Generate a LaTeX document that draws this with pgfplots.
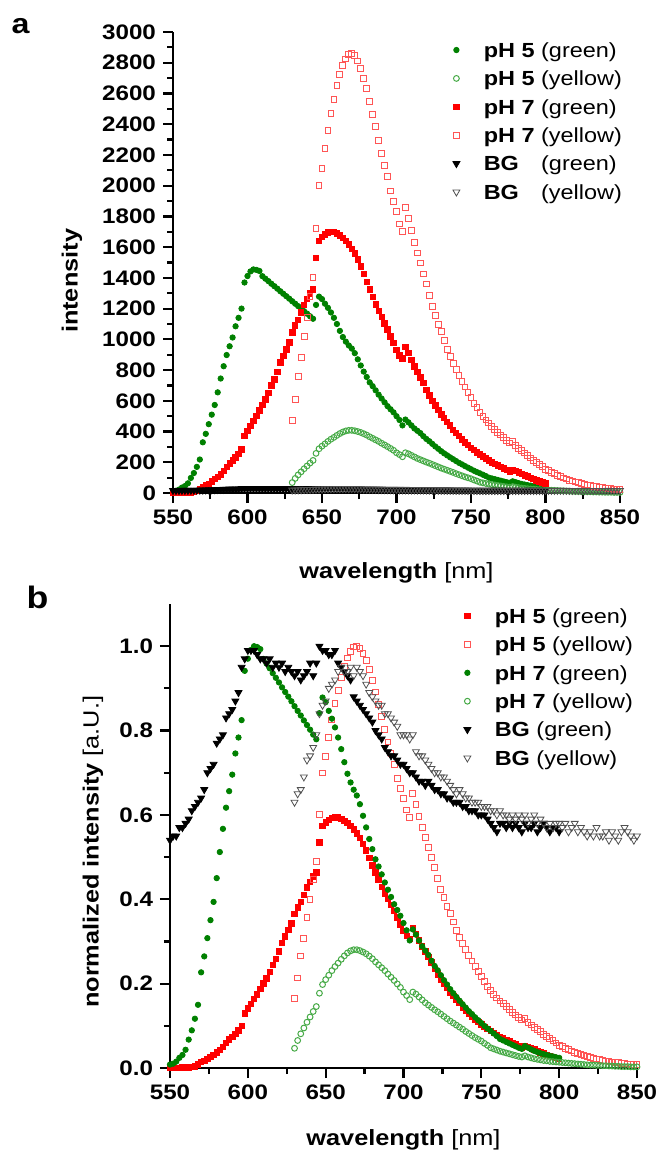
\documentclass[border=0pt]{standalone}
\usepackage{fontspec}
\setmainfont{Liberation Sans}[FakeStretch=1.15]
\usepackage{pgfplots}
\pgfplotsset{compat=1.18}
\usepackage{pgfplotstable}
\definecolor{cG}{RGB}{0,128,0}
\definecolor{cGo}{RGB}{70,170,70}
\definecolor{cR}{RGB}{255,0,0}
\definecolor{cRo}{RGB}{255,85,85}
\definecolor{cBo}{RGB}{80,80,80}

\pgfplotstableread[row sep=\\]{x y\\550 12\\552 15\\554 22\\556 35\\558 45\\560 63\\562 98\\564 130\\566 170\\568 218\\570 330\\572 385\\574 448\\576 510\\578 573\\580 655\\582 745\\584 825\\586 898\\588 955\\590 1012\\592 1085\\594 1140\\596 1200\\598 1370\\600 1412\\602 1442\\604 1455\\606 1452\\608 1445\\610 1411\\612 1395\\614 1379\\616 1362\\618 1346\\620 1330\\622 1313\\624 1297\\626 1281\\628 1265\\630 1248\\632 1232\\634 1216\\636 1199\\638 1183\\640 1167\\642 1150\\644 1134\\646 1224\\648 1278\\650 1262\\652 1232\\654 1205\\656 1175\\658 1140\\660 1100\\662 1055\\664 1015\\666 985\\668 960\\670 940\\672 910\\674 870\\676 830\\678 790\\680 755\\682 720\\684 695\\686 668\\688 640\\690 615\\692 590\\694 565\\696 545\\698 525\\700 500\\702 475\\704 440\\706 478\\708 460\\710 440\\712 420\\714 405\\716 390\\718 370\\720 352\\722 337\\724 320\\726 303\\728 288\\730 272\\732 258\\734 245\\736 232\\738 220\\740 208\\742 196\\744 186\\746 175\\748 165\\750 155\\752 145\\754 136\\756 128\\758 119\\760 110\\762 100\\764 95\\766 90\\768 85\\770 80\\772 75\\774 70\\776 66\\778 76\\780 70\\782 64\\784 59\\786 55\\788 51\\790 48\\792 45\\794 42\\796 40\\798 37\\800 35\\}\Gfive

\pgfplotstableread[row sep=\\]{x y\\630 68\\632 95\\634 118\\636 138\\638 158\\640 176\\642 195\\644 212\\646 258\\648 288\\650 305\\652 320\\654 336\\656 350\\658 362\\660 375\\662 387\\664 397\\666 404\\668 408\\670 408\\672 405\\674 400\\676 394\\678 386\\680 377\\682 366\\684 356\\686 346\\688 336\\690 324\\692 313\\694 302\\696 290\\698 278\\700 262\\702 250\\704 236\\706 262\\708 255\\710 245\\712 235\\714 225\\716 217\\718 209\\720 201\\722 194\\724 186\\726 178\\728 170\\730 162\\732 155\\734 148\\736 141\\738 134\\740 126\\742 119\\744 112\\746 105\\748 99\\750 93\\752 85\\754 78\\756 70\\758 66\\760 62\\762 58\\764 55\\766 52\\768 49\\770 46\\772 43\\774 40\\776 38\\778 42\\780 38\\782 35\\784 32\\786 30\\788 28\\790 26\\792 25\\794 23\\796 22\\798 21\\800 20\\802 19\\804 18\\806 17\\808 16\\810 15\\812 14\\814 13\\816 12\\818 11\\820 10\\822 10\\824 9\\826 9\\828 8\\830 8\\832 7\\834 7\\836 6\\838 6\\840 5\\842 5\\844 5\\846 4\\848 4\\850 4\\}\Yfive

\pgfplotstableread[row sep=\\]{x y\\550 2\\552 2\\554 2\\556 2\\558 3\\560 3\\562 4\\564 6\\566 12\\568 25\\570 40\\572 50\\574 60\\576 75\\578 90\\580 105\\582 122\\584 145\\586 170\\588 193\\590 212\\592 232\\594 255\\596 285\\598 370\\600 405\\602 435\\604 468\\606 500\\608 538\\610 575\\612 608\\614 650\\616 700\\618 740\\620 790\\622 850\\624 892\\626 935\\628 980\\630 1045\\632 1090\\634 1125\\636 1175\\638 1225\\640 1262\\642 1300\\644 1325\\646 1530\\648 1640\\650 1665\\652 1682\\654 1695\\656 1700\\658 1698\\660 1690\\662 1677\\664 1660\\666 1640\\668 1618\\670 1590\\672 1560\\674 1520\\676 1475\\678 1425\\680 1375\\682 1325\\684 1278\\686 1228\\688 1185\\690 1145\\692 1105\\694 1065\\696 1020\\698 975\\700 930\\702 895\\704 875\\706 950\\708 910\\710 866\\712 825\\714 790\\716 752\\718 715\\720 670\\722 635\\724 600\\726 570\\728 542\\730 512\\732 488\\734 462\\736 440\\738 412\\740 390\\742 370\\744 350\\746 330\\748 312\\750 295\\752 280\\754 265\\756 250\\758 238\\760 225\\762 212\\764 200\\766 190\\768 180\\770 170\\772 160\\774 150\\776 140\\778 150\\780 145\\782 135\\784 125\\786 115\\788 107\\790 98\\792 90\\794 83\\796 76\\798 70\\800 63\\}\Gseven

\pgfplotstableread[row sep=\\]{x y\\630 470\\632 610\\634 760\\636 880\\638 1020\\640 1140\\642 1280\\644 1400\\646 1720\\648 2000\\650 2110\\652 2240\\654 2360\\656 2470\\658 2560\\660 2650\\662 2725\\664 2780\\666 2825\\668 2855\\670 2860\\672 2845\\674 2812\\676 2765\\678 2700\\680 2630\\682 2550\\684 2465\\686 2385\\688 2295\\690 2210\\692 2130\\694 2060\\696 1965\\698 1895\\700 1830\\702 1750\\704 1700\\706 1860\\708 1785\\710 1707\\712 1630\\714 1562\\716 1497\\718 1425\\720 1360\\722 1285\\724 1213\\726 1155\\728 1095\\730 1050\\732 990\\734 935\\736 887\\738 843\\740 805\\742 765\\744 725\\746 690\\748 655\\750 620\\752 585\\754 555\\756 525\\758 497\\760 475\\762 455\\764 435\\766 415\\768 395\\770 378\\772 360\\774 340\\776 325\\778 335\\780 310\\782 292\\784 276\\786 260\\788 245\\790 228\\792 213\\794 200\\796 185\\798 170\\800 155\\802 145\\804 135\\806 125\\808 115\\810 106\\812 98\\814 91\\816 84\\818 78\\820 72\\822 66\\824 61\\826 56\\828 52\\830 48\\832 44\\834 41\\836 38\\838 35\\840 32\\842 30\\844 27\\846 25\\848 23\\850 22\\}\Yseven

\pgfplotstableread[row sep=\\]{x y\\550 0.54\\552 0.55\\554 0.55\\556 0.57\\558 0.57\\560 0.58\\562 0.59\\564 0.61\\566 0.62\\568 0.63\\570 0.64\\572 0.66\\574 0.70\\576 0.71\\578 0.72\\580 0.77\\582 0.78\\584 0.79\\586 0.83\\588 0.84\\590 0.85\\592 0.87\\594 0.89\\596 0.95\\598 0.97\\600 0.99\\602 0.99\\604 0.99\\606 0.98\\608 0.97\\610 0.97\\612 0.96\\614 0.97\\616 0.95\\618 0.96\\620 0.95\\622 0.96\\624 0.94\\626 0.95\\628 0.94\\630 0.93\\632 0.94\\634 0.92\\636 0.93\\638 0.94\\640 0.96\\642 0.93\\644 0.96\\646 1.00\\648 0.99\\650 0.99\\652 0.98\\654 0.98\\656 0.99\\658 0.96\\660 0.95\\662 0.94\\664 0.93\\666 0.92\\668 0.88\\670 0.87\\672 0.86\\674 0.85\\676 0.84\\678 0.83\\680 0.82\\682 0.80\\684 0.79\\686 0.78\\688 0.76\\690 0.75\\692 0.74\\694 0.74\\696 0.73\\698 0.72\\700 0.72\\702 0.71\\704 0.70\\706 0.70\\708 0.69\\710 0.68\\712 0.68\\714 0.67\\716 0.68\\718 0.67\\720 0.66\\722 0.66\\724 0.65\\726 0.65\\728 0.64\\730 0.64\\732 0.63\\734 0.63\\736 0.63\\738 0.62\\740 0.62\\742 0.61\\744 0.61\\746 0.61\\748 0.60\\750 0.60\\752 0.60\\754 0.59\\756 0.58\\758 0.57\\760 0.56\\762 0.58\\764 0.58\\766 0.57\\768 0.58\\770 0.57\\772 0.58\\774 0.57\\776 0.56\\778 0.58\\780 0.57\\782 0.57\\784 0.58\\786 0.56\\788 0.57\\790 0.58\\792 0.57\\794 0.56\\796 0.57\\798 0.57\\800 0.56\\}\BGg

\pgfplotstableread[row sep=\\]{x y\\630 0.63\\632 0.65\\634 0.66\\636 0.69\\638 0.73\\640 0.74\\642 0.76\\644 0.79\\646 0.84\\648 0.86\\650 0.87\\652 0.90\\654 0.91\\656 0.92\\658 0.94\\660 0.95\\662 0.94\\664 0.94\\666 0.95\\668 0.93\\670 0.95\\672 0.94\\674 0.93\\676 0.91\\678 0.89\\680 0.88\\682 0.87\\684 0.86\\686 0.86\\688 0.84\\690 0.84\\692 0.83\\694 0.82\\696 0.81\\698 0.79\\700 0.79\\702 0.79\\704 0.78\\706 0.79\\708 0.75\\710 0.74\\712 0.74\\714 0.73\\716 0.72\\718 0.71\\720 0.70\\722 0.70\\724 0.69\\726 0.69\\728 0.68\\730 0.67\\732 0.66\\734 0.65\\736 0.66\\738 0.65\\740 0.64\\742 0.64\\744 0.63\\746 0.63\\748 0.63\\750 0.62\\752 0.62\\754 0.62\\756 0.61\\758 0.61\\760 0.60\\762 0.61\\764 0.60\\766 0.60\\768 0.59\\770 0.60\\772 0.59\\774 0.60\\776 0.59\\778 0.60\\780 0.58\\782 0.59\\784 0.60\\786 0.58\\788 0.59\\790 0.58\\792 0.57\\794 0.58\\796 0.57\\798 0.58\\800 0.58\\802 0.57\\804 0.58\\806 0.56\\808 0.57\\810 0.58\\812 0.56\\814 0.57\\816 0.56\\818 0.55\\820 0.56\\822 0.55\\824 0.57\\826 0.55\\828 0.55\\830 0.56\\832 0.54\\834 0.56\\836 0.55\\838 0.54\\840 0.56\\842 0.57\\844 0.56\\846 0.55\\848 0.54\\850 0.55\\}\BGy

\pgfplotsset{
  myaxis/.style={
    scale only axis, clip=false,
    axis x line*=bottom, axis y line*=left,
    axis line style={-, line width=1.3pt},
    tick align=outside,
    major tick length=5pt, minor tick length=3pt,
    tick style={black, line width=1.1pt},
    minor tick num=1,
    xmin=550, xmax=850, xtick={550,600,...,850},
    tick label style={font=\bfseries\fontsize{10.5}{12}\selectfont},
    /pgf/number format/assume math mode=true,
    /pgf/number format/1000 sep={},
    label style={font=\fontsize{11}{13}\selectfont},
    legend cell align=left,
    legend style={draw=none, fill=none, inner sep=0pt, outer sep=0pt,
      column sep=10.5pt, row sep=4.2pt, anchor=north west,
      font=\fontsize{10.2}{12}\selectfont,
      nodes={inner sep=0pt, text height=8.6pt, text depth=1.4pt}},
    legend image code/.code={\path (0pt,-2pt) (6pt,2pt); \draw[##1] plot coordinates {(3pt,0pt)};},
  },
  sG/.style={only marks, mark=*, mark size=1.35pt, color=cG},
  sGo/.style={only marks, mark=o, mark size=1.45pt, color=cGo, mark options={line width=0.5pt}},
  sR/.style={only marks, mark=square*, mark size=1.35pt, color=cR},
  sRo/.style={only marks, mark=square, mark size=1.45pt, color=cRo, mark options={line width=0.5pt}},
  sB/.style={only marks, mark=triangle*, mark size=2pt, color=black, mark options={rotate=180}},
  sBo/.style={only marks, mark=triangle, mark size=2pt, color=cBo, mark options={rotate=180, line width=0.4pt}},
}

\begin{document}
\begin{tikzpicture}
\path[use as bounding box] (0pt,0pt) rectangle (328.5pt,-579pt);
\begin{axis}[myaxis, at={(86.5pt,-246.5pt)}, anchor=south west,
  width=223.5pt, height=230.5pt,
  ymin=0, ymax=3000, ytick={0,200,...,3000},
  xlabel={\textbf{wavelength} [nm]}, ylabel={\textbf{intensity}},
  xlabel style={at={(axis description cs:0.5,-0.1735)}, anchor=center},
  ylabel style={at={(axis description cs:-0.226,0.46)}, anchor=center},
  legend style={at={(axis description cs:0.6197,0.9826)}},
]
\addplot[sG] table[x=x,y=y] {\Gfive};
\addlegendentry{\textbf{pH 5} (green)}
\addplot[sGo] table[x=x,y=y] {\Yfive};
\addlegendentry{\textbf{pH 5} (yellow)}
\addplot[sR] table[x=x,y=y] {\Gseven};
\addlegendentry{\textbf{pH 7} (green)}
\addplot[sRo] table[x=x,y=y] {\Yseven};
\addlegendentry{\textbf{pH 7} (yellow)}
\addplot[sB] table[x=x,y expr=\thisrow{y}*30] {\BGg};
\addlegendentry{\rlap{\textbf{BG}}\phantom{\textbf{pH 5}} (green)}
\addplot[sBo] table[x=x,y expr=\thisrow{y}*30] {\BGy};
\addlegendentry{\rlap{\textbf{BG}}\phantom{\textbf{pH 5}} (yellow)}
\end{axis}
\node[font=\bfseries\fontsize{14}{15}\selectfont] at (10.25pt,-13.25pt) {a};

\begin{axis}[myaxis, at={(85pt,-534pt)}, anchor=south west,
  width=233.5pt, height=232pt,
  ymin=0, ymax=1.1, ytick={0,0.2,...,1.0},
  yticklabel style={/pgf/number format/.cd, fixed, fixed zerofill, precision=1},
  xlabel={\textbf{wavelength} [nm]}, ylabel={\textbf{normalized intensity} [a.U.]},
  xlabel style={at={(axis description cs:0.5,-0.155)}, anchor=center},
  ylabel style={at={(axis description cs:-0.165,0.466)}, anchor=center},
  legend style={at={(axis description cs:0.6231,0.9957)}},
]
\addplot[sR] table[x=x,y expr=\thisrow{y}/2860] {\Gseven};
\addlegendentry{\textbf{pH 5} (green)}
\addplot[sRo] table[x=x,y expr=\thisrow{y}/2860] {\Yseven};
\addlegendentry{\textbf{pH 5} (yellow)}
\addplot[sG] table[x=x,y expr=\thisrow{y}/1455] {\Gfive};
\addlegendentry{\textbf{pH 7} (green)}
\addplot[sGo] table[x=x,y expr=\thisrow{y}/1455] {\Yfive};
\addlegendentry{\textbf{pH 7} (yellow)}
\addplot[sB] table[x=x,y=y] {\BGg};
\addlegendentry{\textbf{BG} (green)}
\addplot[sBo] table[x=x,y=y] {\BGy};
\addlegendentry{\textbf{BG} (yellow)}
\end{axis}
\node[font=\bfseries\fontsize{15.5}{16}\selectfont] at (18.75pt,-298.75pt) {b};
\end{tikzpicture}
\end{document}
